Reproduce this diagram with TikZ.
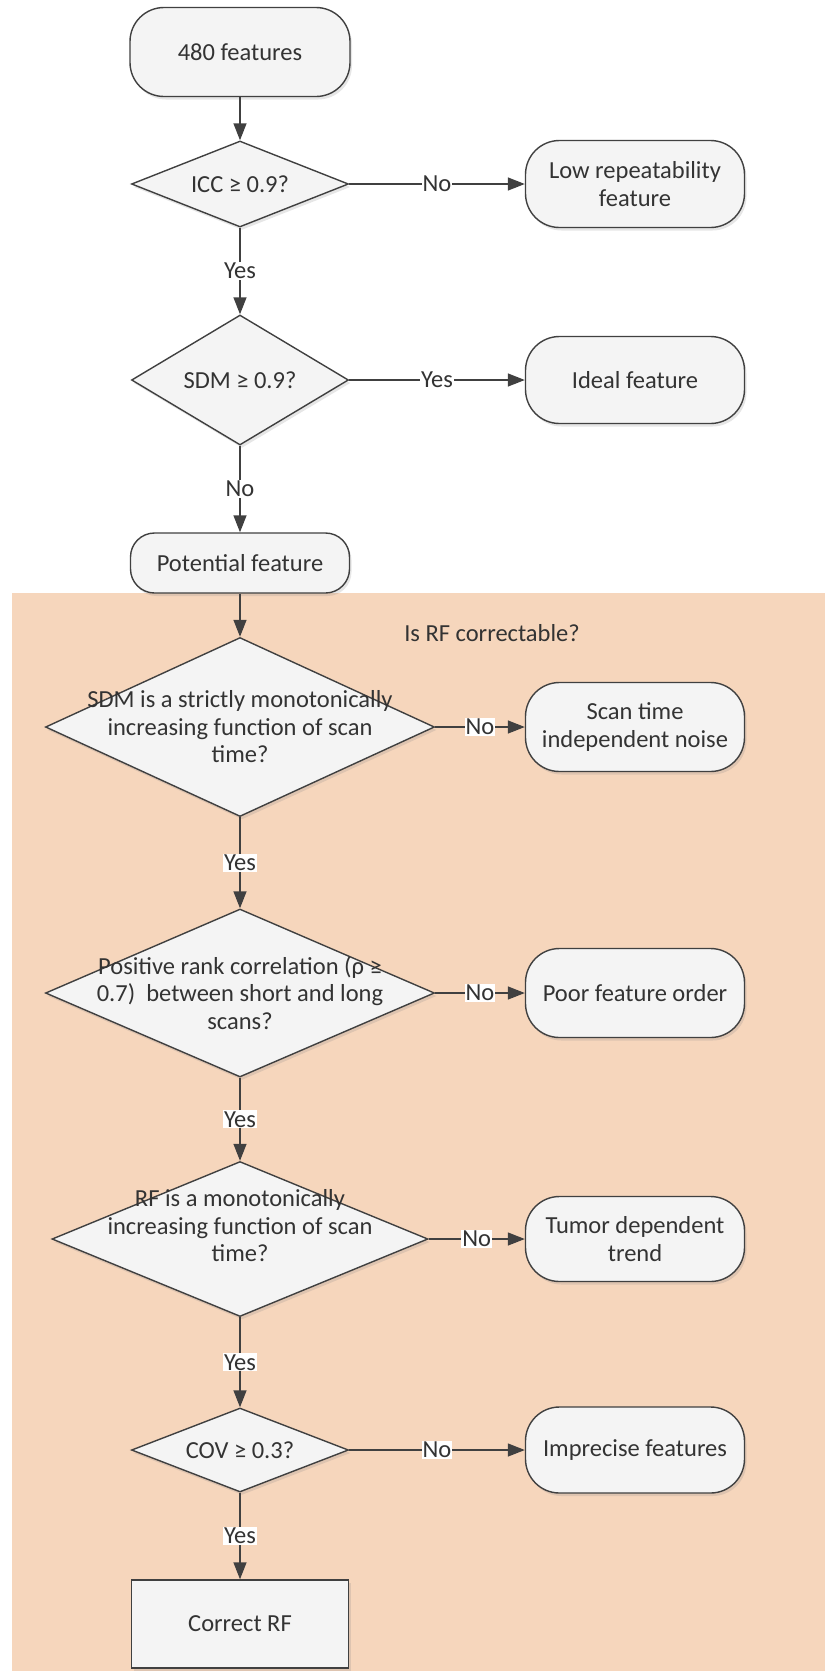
\documentclass[tikz,border=0pt]{standalone}
\usepackage{fontspec}
\setmainfont{Carlito}
\usetikzlibrary{shapes.geometric}
\usetikzlibrary{shadows}
\usetikzlibrary{arrows.meta}

\definecolor{peach}{RGB}{246,214,188}
\definecolor{linegray}{RGB}{64,64,64}
\definecolor{boxfill}{RGB}{244,244,244}

\begin{document}
\begin{tikzpicture}[x=1pt, y=-1pt,
      font=\fontsize{24.5}{27.5}\selectfont,
      every node/.style={align=center, text=black!80},
      terminal/.style={draw=linegray, line width=1.4pt, fill=boxfill,
        rounded corners=34pt, minimum width=219pt, minimum height=87pt,
        drop shadow={opacity=0.2, shadow xshift=2pt, shadow yshift=-3pt}},
      decision/.style={diamond, draw=linegray, line width=1.4pt, fill=boxfill,
        inner sep=0pt,
        drop shadow={opacity=0.2, shadow xshift=2pt, shadow yshift=-3pt}},
      flow/.style={draw=linegray, line width=1.4pt,
        -{Triangle[length=17pt, width=13pt]}},
      answer/.style={fill=white, inner sep=1pt}]
      \useasboundingbox (0,0) rectangle (825,1671);
      \fill[peach] (12,593) rectangle (825,1671);
      \node (rfq) at (492,633) {Is RF correctable?};

      % left column
      \node[terminal, minimum width=220pt, minimum height=89pt] (start) at (240,52) {480 features};
      \node[decision, minimum width=217pt, minimum height=86pt] (icc) at (240,184) {};
      \node at (icc) {ICC ≥ 0.9?};
      \node[decision, minimum width=217pt, minimum height=130pt] (sdm) at (240,380) {};
      \node at (sdm) {SDM ≥ 0.9?};
      \node[terminal, rounded corners=24pt, minimum height=60pt] (potential) at (240,563) {Potential feature};
      \node[decision, minimum width=389pt, minimum height=179pt,
        label={center:SDM is a strictly monotonically\\increasing function of scan\\time?}] (monotone) at (240,727) {};
      \node[decision, minimum width=389pt, minimum height=168pt,
        label={center:Positive rank correlation (ρ ≥\\0.7)\ \ between short and long\\scans?}] (rankcorr) at (240,993) {};
      \node[decision, minimum width=376pt, minimum height=155pt,
        label={[yshift=13pt]center:RF is a monotonically\\increasing function of scan\\time?}] (rfmono) at (240,1239) {};
      \node[decision, minimum width=217pt, minimum height=84pt] (cov) at (240,1450) {};
      \node at (cov) {COV ≥ 0.3?};
      \node[terminal, rounded corners=0pt, minimum width=217pt, minimum height=88pt] (correct) at (240,1624) {Correct RF};

      % right column
      \node[terminal] (lowrep) at (635,184) {Low repeatability\\feature};
      \node[terminal] (ideal) at (635,380) {Ideal feature};
      \node[terminal, minimum height=89pt] (noise) at (635,727) {Scan time\\independent noise};
      \node[terminal, minimum height=89pt] (order) at (635,993) {Poor feature order};
      \node[terminal, minimum height=85pt] (trend) at (635,1239) {Tumor dependent\\trend};
      \node[terminal, minimum height=86pt] (imprecise) at (635,1450) {Imprecise features};

      % connectors
      \draw[flow] (start) -- (icc);
      \draw[flow] (icc) -- node[answer] {No} (lowrep);
      \draw[flow] (icc) -- node[answer] {Yes} (sdm);
      \draw[flow] (sdm) -- node[answer] {Yes} (ideal);
      \draw[flow] (sdm) -- node[answer] {No} (potential);
      \draw[flow] (potential) -- (monotone);
      \draw[flow] (monotone) -- node[answer] {No} (noise);
      \draw[flow] (monotone) -- node[answer] {Yes} (rankcorr);
      \draw[flow] (rankcorr) -- node[answer] {No} (order);
      \draw[flow] (rankcorr) -- node[answer] {Yes} (rfmono);
      \draw[flow] (rfmono) -- node[answer] {No} (trend);
      \draw[flow] (rfmono) -- node[answer] {Yes} (cov);
      \draw[flow] (cov) -- node[answer] {No} (imprecise);
      \draw[flow] (cov) -- node[answer] {Yes} (correct);
\end{tikzpicture}
\end{document}
